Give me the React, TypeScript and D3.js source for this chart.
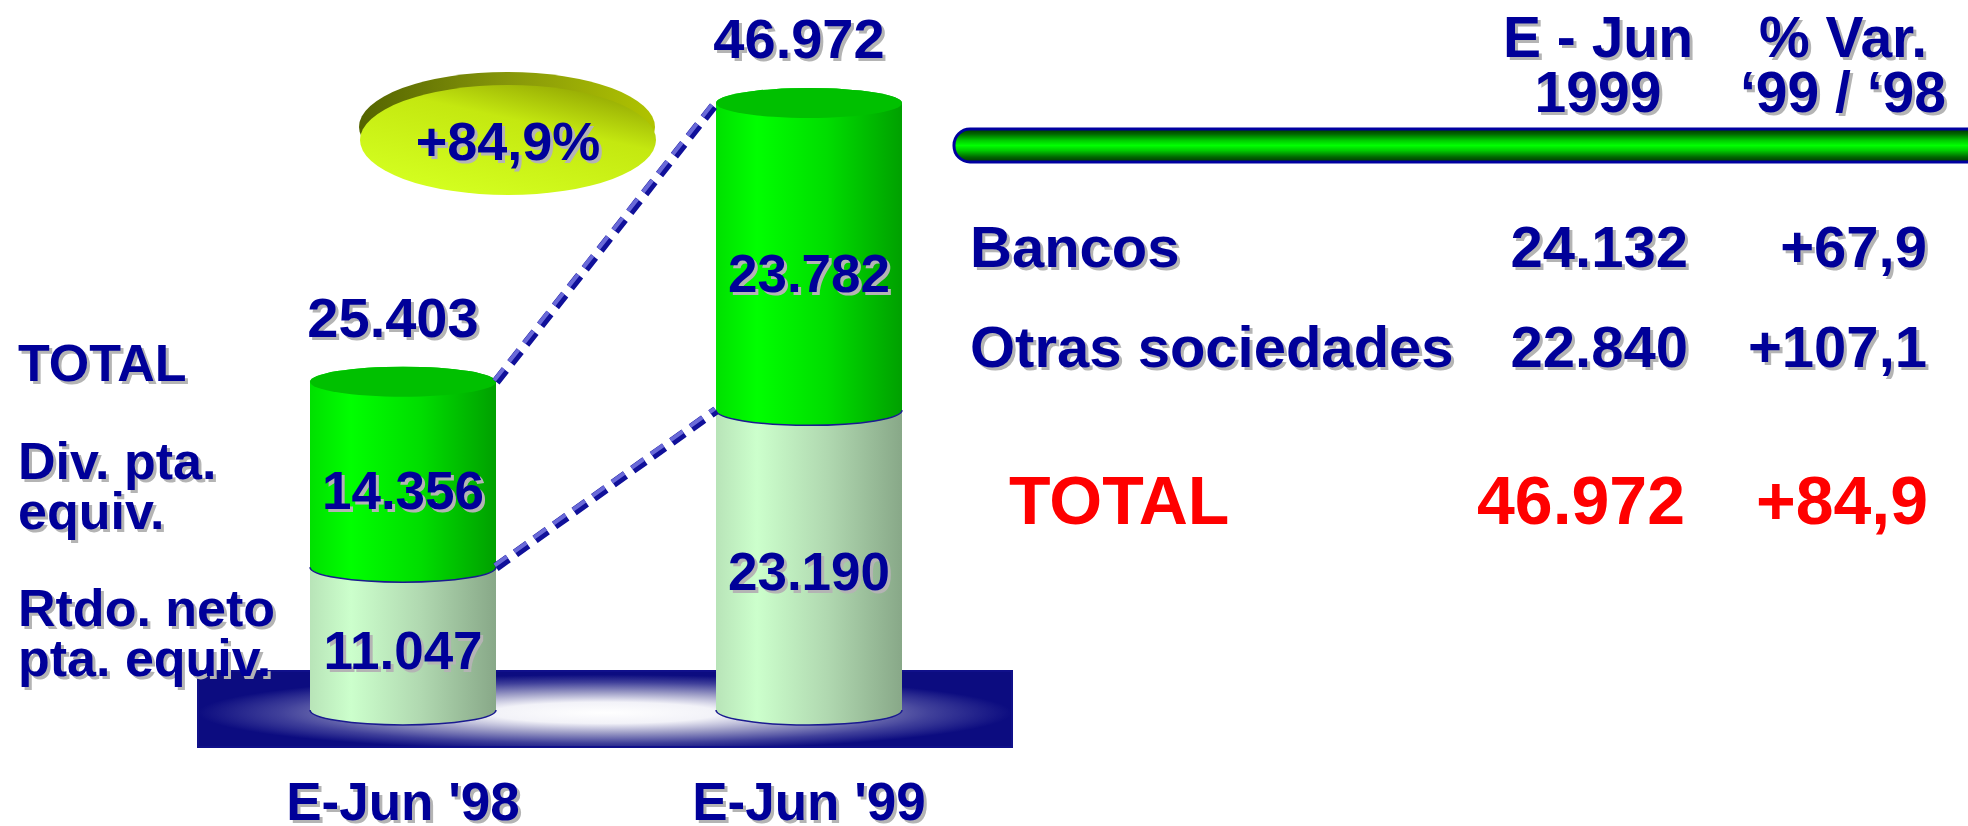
import React from "react";
import * as d3 from "d3";

// ---------- data ----------
const categories = ["E-Jun '98", "E-Jun '99"];
const rtdoNeto = [11047, 23190];
const divPta = [14356, 23782];
const totals = [25403, 46972];
const growthLabel = "+84,9%";
const seriesLabels = [["TOTAL"], ["Div. pta.", "equiv."], ["Rtdo. neto", "pta. equiv."]];

const tableHeaderCol1 = ["E - Jun", "1999"];
const tableHeaderCol2 = ["% Var.", "\u201899 / \u201898"];
const tableRows = ["Bancos", "Otras sociedades"];
const tableValues = ["24.132", "22.840"];
const tableVar = ["+67,9", "+107,1"];
const totalRow = ["TOTAL", "46.972", "+84,9"];

// ---------- style ----------
const W = 1968;
const H = 826;
const BLUE = "#000099";
const SHADOW = "#b4b4b4";
const RED = "#ff0000";
const FONT = "'Liberation Sans', Arial, Helvetica, sans-serif";

const locale = d3.formatLocale({ decimal: ",", thousands: ".", grouping: [3], currency: ["", ""] });
const fmt = locale.format(",d");

function SText({ x, y, children, size, anchor = "start", shadow = true, fill = BLUE }: any) {
  return (
    <g fontFamily={FONT} fontWeight="bold" fontSize={size} textAnchor={anchor}>
      {shadow && (
        <text x={x + 3} y={y + 3} fill={SHADOW}>
          {children}
        </text>
      )}
      <text x={x} y={y} fill={fill}>
        {children}
      </text>
    </g>
  );
}

export default function App() {
  const x = d3.scaleBand<string>().domain(categories).range([200, 1012]);
  const y = d3.scaleLinear().domain([0, d3.max(totals) as number]).range([710, 103]);
  const rx = 93;
  const ry = 15;
  const cxOf = (c: string) => (x(c) as number) + x.bandwidth() / 2;

  const cyl = (cx: number, yTop: number, yBot: number) =>
    `M${cx - rx},${yTop} L${cx - rx},${yBot} A${rx},${ry} 0 0 0 ${cx + rx},${yBot} L${cx + rx},${yTop} A${rx},${ry} 0 0 0 ${cx - rx},${yTop} Z`;
  const bottomArc = (cx: number, yBot: number) =>
    `M${cx - rx},${yBot} A${rx},${ry} 0 0 0 ${cx + rx},${yBot}`;

  const c0 = cxOf(categories[0]);
  const c1 = cxOf(categories[1]);
  const connectors = [
    [c0 + rx, y(totals[0]), c1 - rx, y(totals[1])],
    [c0 + rx, y(rtdoNeto[0]), c1 - rx, y(rtdoNeto[1])],
  ];

  const leftLabelLines: { t: string; yy: number }[] = [];
  const leftBase = [381, 479, 626];
  seriesLabels.forEach((lines, i) => lines.forEach((t, j) => leftLabelLines.push({ t, yy: leftBase[i] + j * 50 })));

  return (
    <svg
      width={W}
      height={H}
      viewBox={`0 0 ${W} ${H}`}
      style={{ position: "fixed", left: 0, top: 0, background: "#fff" }}
    >
      <defs>
        <radialGradient id="platGrad" cx="0.5" cy="0.55" r="0.5">
          <stop offset="0" stopColor="#ffffff" />
          <stop offset="0.28" stopColor="#f2f2f8" />
          <stop offset="0.52" stopColor="#a0a0c8" />
          <stop offset="0.8" stopColor="#40409a" />
          <stop offset="1" stopColor="#0c0c80" />
        </radialGradient>
        <linearGradient id="lowGrad" x1="0" x2="1" y1="0" y2="0">
          <stop offset="0" stopColor="#b8e4b8" />
          <stop offset="0.22" stopColor="#ccffcc" />
          <stop offset="0.6" stopColor="#b0d8b0" />
          <stop offset="1" stopColor="#88a888" />
        </linearGradient>
        <linearGradient id="upGrad" x1="0" x2="1" y1="0" y2="0">
          <stop offset="0" stopColor="#00e000" />
          <stop offset="0.22" stopColor="#00ff00" />
          <stop offset="0.6" stopColor="#00dd00" />
          <stop offset="1" stopColor="#00a000" />
        </linearGradient>
        <linearGradient id="tubeGrad" x1="0" x2="0" y1="0" y2="1">
          <stop offset="0" stopColor="#003300" />
          <stop offset="0.15" stopColor="#006600" />
          <stop offset="0.35" stopColor="#00cc00" />
          <stop offset="0.5" stopColor="#00ff00" />
          <stop offset="0.65" stopColor="#00cc00" />
          <stop offset="0.85" stopColor="#006600" />
          <stop offset="1" stopColor="#003300" />
        </linearGradient>
        <linearGradient id="rimGrad" x1="0" x2="1" y1="0" y2="0">
          <stop offset="0" stopColor="#546400" />
          <stop offset="0.5" stopColor="#86960a" />
          <stop offset="1" stopColor="#b0c400" />
        </linearGradient>
        <linearGradient id="faceGrad" x1="0.9" y1="0" x2="0.3" y2="1">
          <stop offset="0" stopColor="#8a9a00" />
          <stop offset="0.4" stopColor="#c4e810" />
          <stop offset="1" stopColor="#d4ff20" />
        </linearGradient>
      </defs>

      {/* platform */}
      <rect x={198} y={671} width={814} height={76} fill="url(#platGrad)" stroke="#10108a" strokeWidth={2} />

      {/* cylinders */}
      {categories.map((c, i) => {
        const cx = cxOf(c);
        const yb = y(0);
        const ym = y(rtdoNeto[i]);
        const yt = y(totals[i]);
        return (
          <g key={c}>
            <path d={cyl(cx, ym, yb)} fill="url(#lowGrad)" />
            <path d={bottomArc(cx, yb)} fill="none" stroke="#1a1a90" strokeWidth={1.5} />
            <path d={cyl(cx, yt, ym)} fill="url(#upGrad)" />
            <path d={bottomArc(cx, ym)} fill="none" stroke="#1a1a90" strokeWidth={1.5} />
            <ellipse cx={cx} cy={yt} rx={rx} ry={ry} fill="#00c000" />
          </g>
        );
      })}

      {/* dashed connectors */}
      {connectors.map(([x1, y1, x2, y2], i) => {
        const dx = x2 - x1;
        const dy = y2 - y1;
        const len = Math.hypot(dx, dy);
        const px = (dy / len) * 2.2;
        const py = (-dx / len) * 2.2;
        return (
          <g key={i}>
            <line x1={x1} y1={y1} x2={x2} y2={y2} stroke="#10109a" strokeWidth={9} strokeDasharray="15 9" />
            <line
              x1={x1 + px}
              y1={y1 + py}
              x2={x2 + px}
              y2={y2 + py}
              stroke="#6a6ad8"
              strokeWidth={4}
              strokeDasharray="15 9"
            />
          </g>
        );
      })}

      {/* growth disc */}
      <ellipse cx={507} cy={127} rx={148} ry={55} fill="url(#rimGrad)" />
      <ellipse cx={508} cy={140} rx={148} ry={55} fill="url(#faceGrad)" />
      <SText x={508} y={160} size={54} anchor="middle">
        {growthLabel}
      </SText>

      {/* value labels */}
      {categories.map((c, i) => {
        const cx = cxOf(c);
        const yb = y(0);
        const ym = y(rtdoNeto[i]);
        const yt = y(totals[i]);
        return (
          <g key={"lab" + c}>
            <SText x={cx - 10} y={yt - ry - 30} size={56} anchor="middle">
              {fmt(totals[i])}
            </SText>
            <SText x={cx} y={(yt + ym) / 2 + 35} size={53} anchor="middle">
              {fmt(divPta[i])}
            </SText>
            <SText x={cx} y={(ym + yb) / 2 + 30} size={53} anchor="middle">
              {fmt(rtdoNeto[i])}
            </SText>
            <SText x={cx} y={820} size={53} anchor="middle">
              {c}
            </SText>
          </g>
        );
      })}

      {/* series labels on the left */}
      {leftLabelLines.map((l, i) => (
        <SText key={i} x={18} y={l.yy} size={52}>
          {l.t}
        </SText>
      ))}

      {/* table */}
      {tableHeaderCol1.map((t, i) => (
        <SText key={"h1" + i} x={1598} y={57 + i * 55} size={57} anchor="middle">
          {t}
        </SText>
      ))}
      {tableHeaderCol2.map((t, i) => (
        <SText key={"h2" + i} x={1843} y={57 + i * 55} size={57} anchor="middle">
          {t}
        </SText>
      ))}
      <rect x={954} y={129} width={1040} height={33} rx={16} ry={16} fill="url(#tubeGrad)" stroke="#0000a0" strokeWidth={3} />

      {tableRows.map((r, i) => (
        <g key={r}>
          <SText x={970} y={267 + i * 100} size={58}>
            {r}
          </SText>
          <SText x={1688} y={267 + i * 100} size={58} anchor="end">
            {tableValues[i]}
          </SText>
          <SText x={1927} y={267 + i * 100} size={58} anchor="end">
            {tableVar[i]}
          </SText>
        </g>
      ))}
      <SText x={1009} y={524} size={68} shadow={false} fill={RED}>
        {totalRow[0]}
      </SText>
      <SText x={1685} y={524} size={68} shadow={false} fill={RED} anchor="end">
        {totalRow[1]}
      </SText>
      <SText x={1928} y={524} size={68} shadow={false} fill={RED} anchor="end">
        {totalRow[2]}
      </SText>
    </svg>
  );
}
